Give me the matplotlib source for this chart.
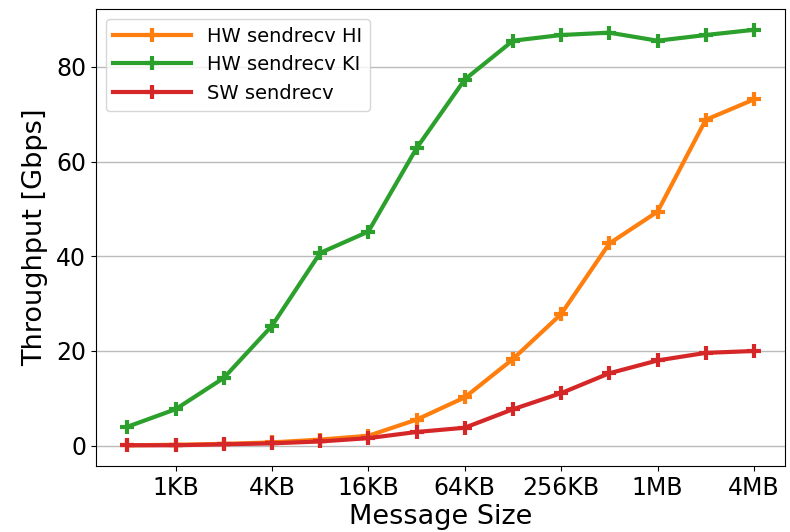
import matplotlib
matplotlib.use("Agg")
from matplotlib import pyplot as plt

sizes = ["512B", "1KB", "2KB", "4KB", "8KB", "16KB", "32KB", "64KB",
         "128KB", "256KB", "512KB", "1MB", "2MB", "4MB"]
hw_hi = [0.1, 0.2, 0.4, 0.7, 1.3, 2.1, 5.5, 10.2, 18.3, 27.8, 42.7, 49.4, 68.8, 73.1]
hw_ki = [4.0, 7.7, 14.3, 25.3, 40.7, 45.2, 62.8, 77.3, 85.5, 86.7, 87.2, 85.5, 86.7, 87.8]
sw = [0.1, 0.1, 0.3, 0.5, 0.9, 1.6, 2.9, 3.8, 7.7, 11.1, 15.3, 18.0, 19.6, 20.0]
tick_labels = ["1KB", "4KB", "16KB", "64KB", "256KB", "1MB", "4MB"]

x = list(range(len(sizes)))

fig = plt.figure(figsize=[7.9, 5.32], dpi=100)
ax = fig.add_axes([0.1215, 0.124, 0.8725, 0.859])
style = dict(marker="+", markersize=10, markeredgewidth=3, linewidth=3)
ax.plot(x, hw_hi, color="tab:orange", label="HW sendrecv HI", **style)
ax.plot(x, hw_ki, color="tab:green", label="HW sendrecv KI", **style)
ax.plot(x, sw, color="tab:red", label="SW sendrecv", **style)

ax.set_xticks([sizes.index(t) for t in tick_labels])
ax.set_xticklabels(tick_labels)
ax.tick_params(labelsize=17)
ax.set_yticks([0, 20, 40, 60, 80])
ax.grid(axis="y", color="#bbbbbb", linewidth=1)
ax.set_axisbelow(True)
ax.set_xlabel("Message Size", fontsize=19.5, labelpad=3)
ax.set_ylabel("Throughput [Gbps]", fontsize=19.5, labelpad=6)
ax.legend(loc="upper left", fontsize=14, handlelength=4)

fig.savefig("out.png")
